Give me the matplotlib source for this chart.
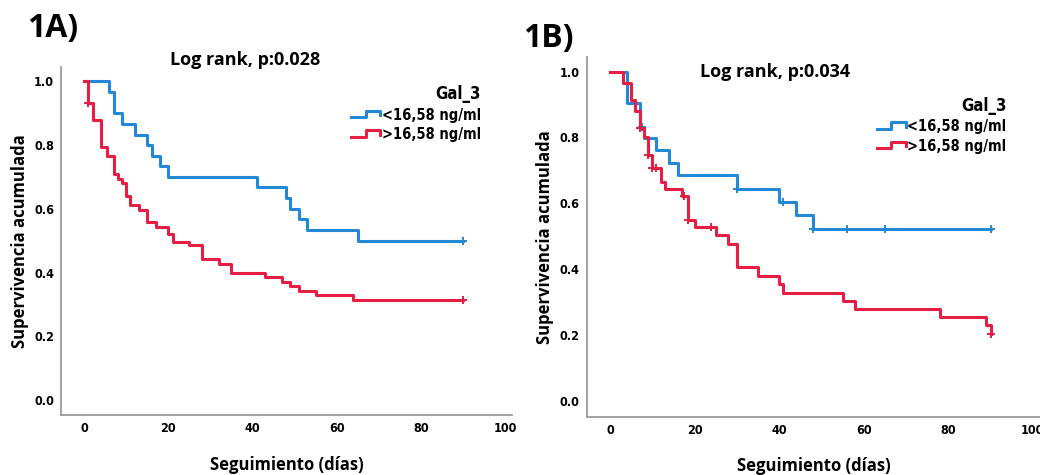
import numpy as np
import matplotlib
matplotlib.use("Agg")
import matplotlib.pyplot as plt
from matplotlib.lines import Line2D
from matplotlib.legend_handler import HandlerBase
from matplotlib import font_manager

# Panel 1A: Kaplan-Meier steps (day of drop, survival after drop)
a_low_t = [6, 7, 9, 12, 15, 16, 18, 20, 41, 48, 49, 51, 53, 65]
a_low_s = [0.967, 0.90, 0.867, 0.833, 0.80, 0.767, 0.733, 0.70, 0.667, 0.633, 0.60, 0.567, 0.533, 0.50]
a_low_cens = [90]

a_high_t = [1, 2, 4, 5.5, 7, 8, 9, 10, 11, 13, 15, 17, 20, 21, 25, 28, 32, 35, 43, 47, 49, 51, 55, 64]
a_high_s = [0.933, 0.878, 0.795, 0.766, 0.71, 0.695, 0.68, 0.64, 0.611, 0.596, 0.56, 0.543, 0.522, 0.497,
            0.485, 0.444, 0.428, 0.40, 0.385, 0.371, 0.357, 0.343, 0.329, 0.313]
a_high_cens = [1, 90]

# Panel 1B
b_low_t = [4, 7, 8, 11, 14, 16, 30, 40, 44, 48]
b_low_s = [0.903, 0.832, 0.797, 0.762, 0.723, 0.686, 0.645, 0.605, 0.564, 0.521]
b_low_cens = [7.5, 30, 41, 48, 56, 65, 90]

b_high_t = [3, 5, 6, 7, 8, 9, 10, 12, 13, 17, 18.5, 20, 25, 28, 30, 35, 40, 41, 55, 58, 78, 89, 90]
b_high_s = [0.966, 0.915, 0.88, 0.83, 0.80, 0.746, 0.706, 0.666, 0.645, 0.622, 0.549, 0.527, 0.504,
            0.476, 0.406, 0.379, 0.355, 0.329, 0.304, 0.279, 0.256, 0.231, 0.205]
b_high_cens = [7, 9, 10, 11, 17.5, 18.5, 24, 90]

end_day = 90
group_labels = ["<16,58 ng/ml", ">16,58 ng/ml"]
pvals = ["Log rank, p:0.028", "Log rank, p:0.034"]
panel_names = ["1A)", "1B)"]
xticks = [0, 20, 40, 60, 80, 100]
yticks = [0.0, 0.2, 0.4, 0.6, 0.8, 1.0]

BLUE = "#2389d6"
RED = "#e61e43"

installed = {f.name for f in font_manager.fontManager.ttflist}
narrow = "Liberation Sans Narrow" if "Liberation Sans Narrow" in installed else "DejaVu Sans"
label_font = ["Open Sans", "DejaVu Sans"]
nfont = {"family": narrow, "weight": "bold", "stretch": "condensed"}


def curve(times, surv, cens):
    t = np.r_[0, times, end_day]
    s = np.r_[1.0, surv, surv[-1]]
    ct = np.array(cens, dtype=float)
    # survival value at each censor time
    cs = np.array([s[np.searchsorted(t, c, side="right") - 1] for c in ct])
    return t, s, ct, cs


class StepHandler(HandlerBase):
    def create_artists(self, legend, orig_handle, xdescent, ydescent, width, height, fontsize, trans):
        w, h = width, height
        xs = np.array([0, 0.5, 0.5, 1.0, 1.0]) * w - xdescent
        ys = np.array([0.25, 0.25, 0.85, 0.85, 0.45]) * h - ydescent
        ln = Line2D(xs, ys, color=orig_handle.get_color(), lw=2.2, transform=trans)
        return [ln]


def draw(ax, low, high, pval, name, title_xy, leg_xy, name_xy):
    for (tt, ss, cc), col in zip([low, high], [BLUE, RED]):
        t, s, ct, cs = curve(tt, ss, cc)
        ax.step(t, s, where="post", color=col, lw=2.2)
        ax.plot(ct, cs, ls="none", marker="+", ms=6, mew=1.4, color=col)

    ax.set_xlim(-5.5, 101.7)
    ax.set_ylim(-0.047, 1.045)
    ax.set_xticks(xticks)
    ax.set_yticks(yticks)
    ax.set_xticklabels([str(v) for v in xticks], fontsize=9, **nfont)
    ax.set_yticklabels(["%.1f" % v for v in yticks], fontsize=9, **nfont)
    ax.tick_params(length=0, pad=5)
    for sp in ["top", "right"]:
        ax.spines[sp].set_visible(False)
    for sp in ["left", "bottom"]:
        ax.spines[sp].set_color("#9a9a9a")
        ax.spines[sp].set_linewidth(1.3)

    ax.set_ylabel("Supervivencia acumulada", family=label_font, fontweight="bold", fontsize=12, labelpad=4)
    ax.set_xlabel("Seguimiento (días)", family=label_font, fontweight="bold", fontsize=12, labelpad=15)

    ax.text(title_xy[0], title_xy[1], pval, transform=ax.transAxes, ha="center", va="center",
            family=label_font, fontweight="bold", fontsize=13)
    ax.text(name_xy[0], name_xy[1], name, transform=ax.transAxes, ha="left", va="center",
            family=label_font, fontweight="bold", fontsize=23)

    handles = [Line2D([], [], color=BLUE), Line2D([], [], color=RED)]
    leg = ax.legend(handles, group_labels, title="Gal_3", loc="upper right", bbox_to_anchor=leg_xy,
                    frameon=False, handler_map={Line2D: StepHandler()}, handlelength=2.0,
                    handletextpad=0.1, labelspacing=0.3, alignment="right",
                    prop={"family": narrow, "weight": "bold", "size": 10.5, "stretch": "condensed"})
    leg.get_title().set_fontfamily(narrow)
    leg.get_title().set_fontweight("bold")
    leg.get_title().set_fontstretch("condensed")
    leg.get_title().set_fontsize(12)


fig = plt.figure(figsize=(10.4, 4.75), dpi=100)
ax1 = fig.add_axes([0.0587, 0.1263, 0.4337, 0.7326])
ax2 = fig.add_axes([0.5641, 0.1227, 0.4359, 0.758])

draw(ax1, (a_low_t, a_low_s, a_low_cens), (a_high_t, a_high_s, a_high_cens), pvals[0], panel_names[0],
     (0.408, 1.02), (0.96, 0.985), (-0.075, 1.11))
draw(ax2, (b_low_t, b_low_s, b_low_cens), (b_high_t, b_high_s, b_high_cens), pvals[1], panel_names[1],
     (0.415, 0.957), (0.955, 0.925), (-0.14, 1.05))

fig.savefig("out.png", dpi=100)
